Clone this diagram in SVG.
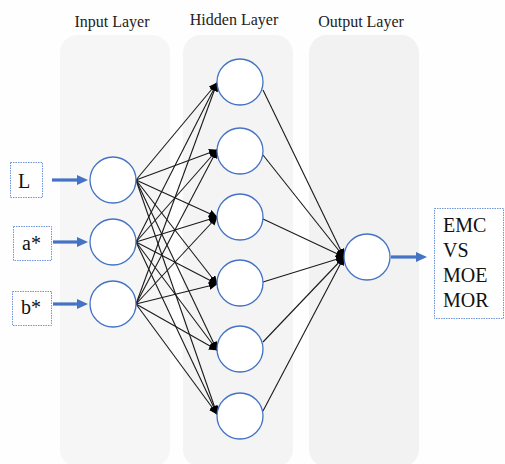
<svg xmlns="http://www.w3.org/2000/svg" width="505" height="464" viewBox="0 0 505 464">
<defs>
<style>
.panel{stroke:none}
.title{font-family:"Liberation Serif","Times New Roman",serif;font-size:16px;fill:#222;text-anchor:middle}
.node{fill:#fff;stroke:#4472c4;stroke-width:1.3}
.box{fill:#fff;stroke:#6f95d8;stroke-width:1;stroke-dasharray:1.5 1}
.lbl{font-family:"Liberation Serif","Times New Roman",serif;font-size:20px;fill:#111}
.conn{stroke:#1a1a1a;stroke-width:1.1;fill:none;marker-end:url(#ah)}
.blue{stroke:#4472c4;stroke-width:3.2;fill:none;marker-end:url(#bh)}
</style>
<marker id="ah" markerUnits="userSpaceOnUse" markerWidth="9" markerHeight="8" refX="8" refY="4" orient="auto">
<path d="M0,0 L9,4 L0,8 z" fill="#000"/>
</marker>
<marker id="bh" markerUnits="userSpaceOnUse" markerWidth="11" markerHeight="10" refX="1" refY="5" orient="auto">
<path d="M0,0 L11,5 L0,10 z" fill="#4472c4"/>
</marker>
</defs>
<rect width="505" height="464" fill="#fefefe"/>
<g id="panels">
<rect class="panel" x="60" y="35" width="110" height="432" rx="18" fill="#f6f6f6"/>
<rect class="panel" x="183" y="35" width="110" height="432" rx="18" fill="#f4f4f4"/>
<rect class="panel" x="309" y="35" width="110" height="432" rx="18" fill="#f2f2f2"/>
</g>
<g id="titles">
<text class="title" x="112" y="27">Input Layer</text>
<text class="title" x="234" y="25">Hidden Layer</text>
<text class="title" x="361" y="27">Output Layer</text>
</g>
<g id="connectors">
<line class="conn" x1="136" y1="180" x2="217" y2="83"/>
<line class="conn" x1="136" y1="180" x2="217" y2="150"/>
<line class="conn" x1="136" y1="180" x2="217" y2="217"/>
<line class="conn" x1="136" y1="180" x2="217" y2="284"/>
<line class="conn" x1="136" y1="180" x2="217" y2="350"/>
<line class="conn" x1="136" y1="180" x2="217" y2="414"/>
<line class="conn" x1="136" y1="242" x2="217" y2="83"/>
<line class="conn" x1="136" y1="242" x2="217" y2="150"/>
<line class="conn" x1="136" y1="242" x2="217" y2="217"/>
<line class="conn" x1="136" y1="242" x2="217" y2="284"/>
<line class="conn" x1="136" y1="242" x2="217" y2="350"/>
<line class="conn" x1="136" y1="242" x2="217" y2="414"/>
<line class="conn" x1="136" y1="304" x2="217" y2="83"/>
<line class="conn" x1="136" y1="304" x2="217" y2="150"/>
<line class="conn" x1="136" y1="304" x2="217" y2="217"/>
<line class="conn" x1="136" y1="304" x2="217" y2="284"/>
<line class="conn" x1="136" y1="304" x2="217" y2="350"/>
<line class="conn" x1="136" y1="304" x2="217" y2="414"/>
<line class="conn" x1="263" y1="90" x2="344" y2="257"/>
<line class="conn" x1="263" y1="155" x2="344" y2="257"/>
<line class="conn" x1="263" y1="219" x2="344" y2="257"/>
<line class="conn" x1="263" y1="282" x2="344" y2="257"/>
<line class="conn" x1="263" y1="342" x2="344" y2="257"/>
<line class="conn" x1="263" y1="411" x2="344" y2="257"/>
<line class="blue" x1="52" y1="180" x2="78" y2="180"/>
<line class="blue" x1="53" y1="242" x2="78" y2="242"/>
<line class="blue" x1="53" y1="304" x2="78" y2="304"/>
<line class="blue" x1="391" y1="257" x2="417" y2="257"/>
</g>
<g id="in-L"><rect class="box" x="10.5" y="162.5" width="32" height="35"/><text class="lbl" x="18" y="188">L</text></g>
<g id="in-a"><rect class="box" x="13.5" y="226.5" width="38" height="34"/><text class="lbl" x="22" y="250">a*</text></g>
<g id="in-b"><rect class="box" x="12.5" y="291.5" width="39" height="34"/><text class="lbl" x="21" y="314">b*</text></g>
<g id="input1"><circle class="node" cx="113" cy="180" r="23"/></g>
<g id="input2"><circle class="node" cx="113" cy="242" r="23"/></g>
<g id="input3"><circle class="node" cx="113" cy="304" r="23"/></g>
<g id="hidden1"><circle class="node" cx="240" cy="82" r="23"/></g>
<g id="hidden2"><circle class="node" cx="240" cy="151" r="23"/></g>
<g id="hidden3"><circle class="node" cx="240" cy="217" r="23"/></g>
<g id="hidden4"><circle class="node" cx="240" cy="283" r="23"/></g>
<g id="hidden5"><circle class="node" cx="240" cy="349" r="23"/></g>
<g id="hidden6"><circle class="node" cx="240" cy="416" r="23"/></g>
<g id="output1"><circle class="node" cx="367" cy="257" r="23"/></g>
<g id="outputs"><rect class="box" x="434.5" y="208.5" width="69" height="110"/>
<text class="lbl" x="443" y="232">EMC</text>
<text class="lbl" x="443" y="257">VS</text>
<text class="lbl" x="443" y="282">MOE</text>
<text class="lbl" x="443" y="307">MOR</text>
</g>
</svg>
